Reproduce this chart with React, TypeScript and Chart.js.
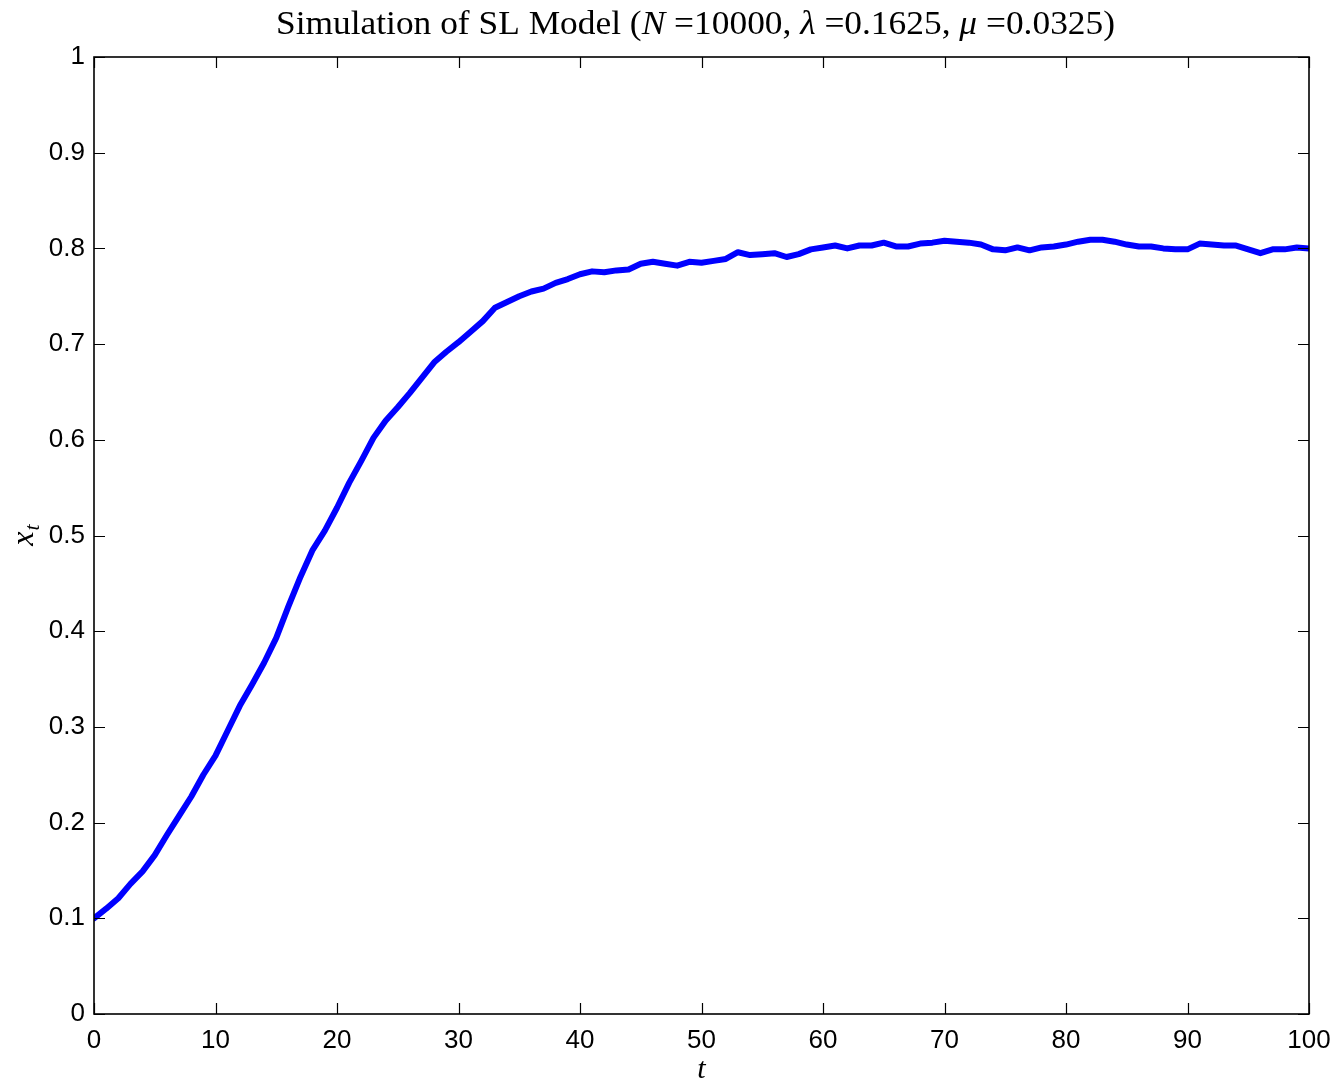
import React, { useEffect, useRef } from "react";
import { Chart, registerables } from "chart.js";

Chart.register(...registerables);

const T: number[] = Array.from({ length: 101 }, (_, i) => i);
const X: number[] = [
  0.100, 0.110, 0.121, 0.136, 0.149, 0.166, 0.187, 0.207, 0.227, 0.250,
  0.270, 0.296, 0.322, 0.344, 0.367, 0.393, 0.426, 0.457, 0.485, 0.505,
  0.529, 0.555, 0.578, 0.602, 0.620, 0.634, 0.649, 0.665, 0.681, 0.692,
  0.702, 0.713, 0.724, 0.738, 0.744, 0.750, 0.755, 0.758, 0.764, 0.768,
  0.773, 0.776, 0.775, 0.777, 0.778, 0.784, 0.786, 0.784, 0.782, 0.786,
  0.785, 0.787, 0.789, 0.796, 0.793, 0.794, 0.795, 0.791, 0.794, 0.799,
  0.801, 0.803, 0.800, 0.803, 0.803, 0.806, 0.802, 0.802, 0.805, 0.806,
  0.808, 0.807, 0.806, 0.804, 0.799, 0.798, 0.801, 0.798, 0.801, 0.802,
  0.804, 0.807, 0.809, 0.809, 0.807, 0.804, 0.802, 0.802, 0.800, 0.799,
  0.799, 0.805, 0.804, 0.803, 0.803, 0.799, 0.795, 0.799, 0.799, 0.801,
  0.800,
];
const X_TICKS: number[] = [0, 10, 20, 30, 40, 50, 60, 70, 80, 90, 100];
const Y_TICKS: number[] = [0, 0.1, 0.2, 0.3, 0.4, 0.5, 0.6, 0.7, 0.8, 0.9, 1];
const TITLE_PARTS: [string, boolean][] = [
  ["Simulation of SL Model (", false],
  ["N", true],
  [" =10000, ", false],
  ["λ", true],
  [" =0.1625, ", false],
  ["μ", true],
  [" =0.0325)", false],
];

const W = 1338;
const H = 1082;
const SERIF = '"Liberation Serif", "DejaVu Serif", serif';

const framePlugin = {
  id: "matlabFrame",
  afterDraw(chart: any) {
    const { ctx, chartArea } = chart;
    const { left, right, top, bottom } = chartArea;
    const xs = chart.scales.x;
    const ys = chart.scales.y;
    ctx.save();
    ctx.strokeStyle = "#000";
    ctx.lineWidth = 1.6;
    ctx.strokeRect(left, top, right - left, bottom - top);
    const tl = 11;
    ctx.beginPath();
    X_TICKS.forEach((v) => {
      const px = Math.round(xs.getPixelForValue(v)) + 0.5;
      ctx.moveTo(px, bottom);
      ctx.lineTo(px, bottom - tl);
      ctx.moveTo(px, top);
      ctx.lineTo(px, top + tl);
    });
    Y_TICKS.forEach((v) => {
      const py = Math.round(ys.getPixelForValue(v)) + 0.5;
      ctx.moveTo(left, py);
      ctx.lineTo(left + tl, py);
      ctx.moveTo(right, py);
      ctx.lineTo(right - tl, py);
    });
    ctx.lineWidth = 1.2;
    ctx.stroke();

    // title
    ctx.fillStyle = "#000";
    ctx.textBaseline = "alphabetic";
    ctx.textAlign = "left";
    const fs = 33;
    const fontFor = (it: boolean) => `${it ? "italic " : ""}${fs}px ${SERIF}`;
    let total = 0;
    TITLE_PARTS.forEach(([s, it]) => {
      ctx.font = fontFor(it);
      total += ctx.measureText(s).width;
    });
    const targetW = 839;
    const sx = targetW / total;
    ctx.save();
    ctx.translate(695.5 - targetW / 2, 33.5);
    ctx.scale(sx, 1);
    let cx = 0;
    TITLE_PARTS.forEach(([s, it]) => {
      ctx.font = fontFor(it);
      ctx.fillText(s, cx, 0);
      cx += ctx.measureText(s).width;
    });
    ctx.restore();

    // x-axis title
    ctx.font = `italic 30px ${SERIF}`;
    ctx.textAlign = "center";
    ctx.fillText("t", (left + right) / 2, 1078);

    // y-axis title x_t
    ctx.save();
    ctx.translate(33, (top + bottom) / 2);
    ctx.rotate(-Math.PI / 2);
    ctx.textAlign = "left";
    ctx.font = `italic 32px ${SERIF}`;
    const xw = ctx.measureText("x").width;
    ctx.font = `italic 22px ${SERIF}`;
    const subW = ctx.measureText("t").width;
    const start = -(xw + subW) / 2;
    ctx.font = `italic 32px ${SERIF}`;
    ctx.fillText("x", start, 0);
    ctx.font = `italic 22px ${SERIF}`;
    ctx.fillText("t", start + xw + 1, 6);
    ctx.restore();

    ctx.restore();
  },
};

export default function App() {
  const ref = useRef<HTMLCanvasElement | null>(null);
  useEffect(() => {
    document.body.style.margin = "0";
    const canvas = ref.current;
    if (!canvas) return;
    const tickFont = { family: '"Liberation Sans", Arial, sans-serif', size: 26 };
    const chart = new Chart(canvas, {
      type: "line",
      data: {
        datasets: [
          {
            data: T.map((t, i) => ({ x: t, y: X[i] })),
            borderColor: "#0000ff",
            borderWidth: 6,
            pointRadius: 0,
            tension: 0,
            fill: false,
            borderJoinStyle: "round",
            borderCapStyle: "round",
          },
        ],
      },
      options: {
        animation: false,
        responsive: false,
        devicePixelRatio: 1,
        layout: { padding: { top: 57, right: 29, left: 0, bottom: 0 } },
        plugins: {
          legend: { display: false },
          title: { display: false },
          tooltip: { enabled: false },
        },
        scales: {
          x: {
            type: "linear",
            min: 0,
            max: 100,
            afterBuildTicks: (s: any) => {
              s.ticks = X_TICKS.map((v) => ({ value: v }));
            },
            afterFit: (s: any) => {
              s.height = H - 1014;
            },
            grid: { display: false },
            border: { display: false },
            ticks: {
              font: tickFont,
              color: "#000",
              padding: 3,
              maxRotation: 0,
              autoSkip: false,
              callback: (v: any) => String(v),
            },
          },
          y: {
            type: "linear",
            min: 0,
            max: 1,
            afterBuildTicks: (s: any) => {
              s.ticks = Y_TICKS.map((v) => ({ value: v }));
            },
            afterFit: (s: any) => {
              s.width = 94;
            },
            grid: { display: false },
            border: { display: false },
            ticks: {
              font: tickFont,
              color: "#000",
              padding: 1,
              autoSkip: false,
              callback: (v: any) => String(+Number(v).toFixed(1)),
            },
          },
        },
      },
      plugins: [framePlugin],
    } as any);
    return () => chart.destroy();
  }, []);
  return (
    <div style={{ position: "absolute", left: 0, top: 0, width: W, height: H, background: "#fff" }}>
      <canvas ref={ref} width={W} height={H} style={{ width: W, height: H, display: "block" }} />
    </div>
  );
}
